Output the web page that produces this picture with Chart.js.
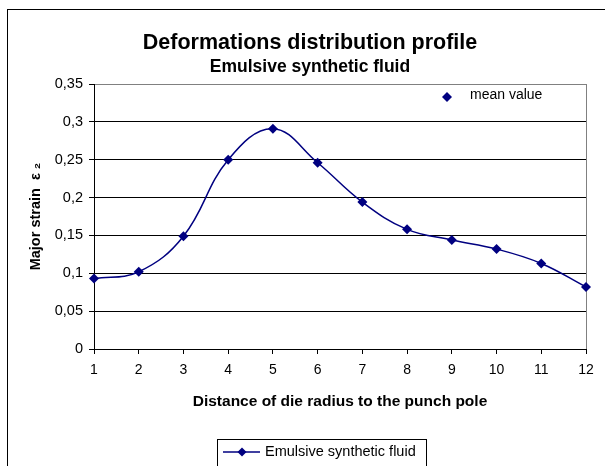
<!DOCTYPE html>
<html lang="en">
<head>
    <title>Deformations distribution profile</title>
    <meta charset="utf-8" />
    <script src="https://cdn.jsdelivr.net/npm/chart.js"></script>
    <style>
        html, body { margin: 0; padding: 0; background: #fff; }
        #wrap { width: 605px; height: 466px; }
    </style>
</head>
<body>
    <div id="wrap"><canvas id="chart" width="605" height="466"></canvas></div>

    <script>
        // Datos
        var distances = [1, 2, 3, 4, 5, 6, 7, 8, 9, 10, 11, 12];
        var strainValues = [0.093, 0.102, 0.149, 0.25, 0.291, 0.246, 0.194, 0.158, 0.144, 0.132, 0.113, 0.082];
        var yTicks = [0, 0.05, 0.1, 0.15, 0.2, 0.25, 0.3, 0.35];
        var seriesName = 'Emulsive synthetic fluid';
        var noteText = 'mean value';

        var FONT = "'Liberation Sans', Arial, sans-serif";
        var NAVY = '#000080';

        function diamond(ctx, x, y, r) {
            ctx.beginPath();
            ctx.moveTo(x, y - r);
            ctx.lineTo(x + r, y);
            ctx.lineTo(x, y + r);
            ctx.lineTo(x - r, y);
            ctx.closePath();
            ctx.fill();
        }

        // marco exterior, leyenda con borde y nota "mean value"
        var framePlugin = {
            id: 'frame',
            afterLayout: function (chart) {
                // centrar los títulos sobre el marco del gráfico
                chart.boxes.forEach(function (b) {
                    if (b.position === 'top' && b.options && b.options.text) {
                        b.left = 0; b.right = 620; b.width = 620;
                    }
                });
            },
            beforeDraw: function (chart) {
                var ctx = chart.ctx;
                ctx.save();
                ctx.fillStyle = '#fff';
                ctx.fillRect(0, 0, chart.width, chart.height);
                ctx.strokeStyle = '#000';
                ctx.lineWidth = 1;
                ctx.strokeRect(7.5, 9.5, 700, 600);
                ctx.restore();
            },
            afterDraw: function (chart) {
                var ctx = chart.ctx;
                ctx.save();
                // nota dentro del área de trazado
                ctx.fillStyle = NAVY;
                diamond(ctx, 447, 97, 5);
                ctx.fillStyle = '#000';
                ctx.font = '14px ' + FONT;
                ctx.textBaseline = 'middle';
                ctx.fillText(noteText, 470, 95);

                // leyenda
                ctx.strokeStyle = '#000';
                ctx.lineWidth = 1;
                ctx.strokeRect(217.5, 439.5, 209, 40);
                ctx.strokeStyle = NAVY;
                ctx.lineWidth = 1.5;
                ctx.beginPath();
                ctx.moveTo(223, 452);
                ctx.lineTo(260, 452);
                ctx.stroke();
                ctx.fillStyle = NAVY;
                diamond(ctx, 242, 452, 4.5);
                ctx.fillStyle = '#000';
                ctx.font = '14.5px ' + FONT;
                ctx.fillText(chart.data.datasets[0].label, 265, 452);
                ctx.restore();
            }
        };

        new Chart(document.getElementById('chart'), {
            type: 'line',
            data: {
                datasets: [{
                    label: seriesName,
                    data: distances.map(function (d, i) { return { x: d, y: strainValues[i] }; }),
                    borderColor: NAVY,
                    backgroundColor: NAVY,
                    borderWidth: 1.5,
                    pointStyle: 'rectRot',
                    pointRadius: 5,
                    pointBorderWidth: 0,
                    tension: 0.4,
                    clip: false
                }]
            },
            options: {
                responsive: false,
                animation: false,
                layout: { padding: { left: 0, right: 19, top: 0, bottom: 55 } },
                plugins: {
                    legend: { display: false },
                    tooltip: { enabled: false },
                    title: {
                        display: true,
                        text: 'Deformations distribution profile',
                        color: '#000',
                        font: { family: FONT, size: 21.5, weight: 'bold' },
                        padding: { top: 30, bottom: 0 }
                    },
                    subtitle: {
                        display: true,
                        text: 'Emulsive synthetic fluid',
                        color: '#000',
                        font: { family: FONT, size: 17.5, weight: 'bold' },
                        padding: { top: 1.3, bottom: 5.9 }
                    }
                },
                scales: {
                    x: {
                        type: 'linear',
                        min: 1,
                        max: 12,
                        afterFit: function (s) { s.height = 62; },
                        afterBuildTicks: function (s) {
                            s.ticks = distances.map(function (d) { return { value: d }; });
                        },
                        ticks: {
                            color: '#000',
                            font: { family: FONT, size: 14 },
                            padding: 8,
                            maxRotation: 0
                        },
                        grid: {
                            drawOnChartArea: true,
                            color: function (c) { return c.tick && c.tick.value === 12 ? '#808080' : 'rgba(0,0,0,0)'; },
                            tickColor: '#000',
                            tickLength: 5
                        },
                        border: { color: '#000' },
                        title: {
                            display: true,
                            text: 'Distance of die radius to the punch pole',
                            color: '#000',
                            font: { family: FONT, size: 15.5, weight: 'bold' },
                            padding: { top: 0, bottom: 0 }
                        }
                    },
                    y: {
                        min: 0,
                        max: 0.35,
                        afterFit: function (s) { s.width = 94; },
                        afterBuildTicks: function (s) {
                            s.ticks = yTicks.map(function (v) { return { value: v }; });
                        },
                        ticks: {
                            color: '#000',
                            font: { family: FONT, size: 14.5 },
                            padding: 6,
                            callback: function (v) { return String(+v.toFixed(2)).replace('.', ','); }
                        },
                        grid: {
                            color: function (c) { return c.tick && c.tick.value === 0.35 ? '#808080' : '#000'; },
                            tickColor: '#000',
                            tickLength: 5
                        },
                        border: { color: '#000' },
                        title: {
                            display: true,
                            text: 'Major strain  ε ₂',
                            color: '#000',
                            font: { family: FONT, size: 14.5, weight: 'bold' },
                            padding: { top: 27, bottom: 0 }
                        }
                    }
                }
            },
            plugins: [framePlugin]
        });
    </script>
</body>
</html>
